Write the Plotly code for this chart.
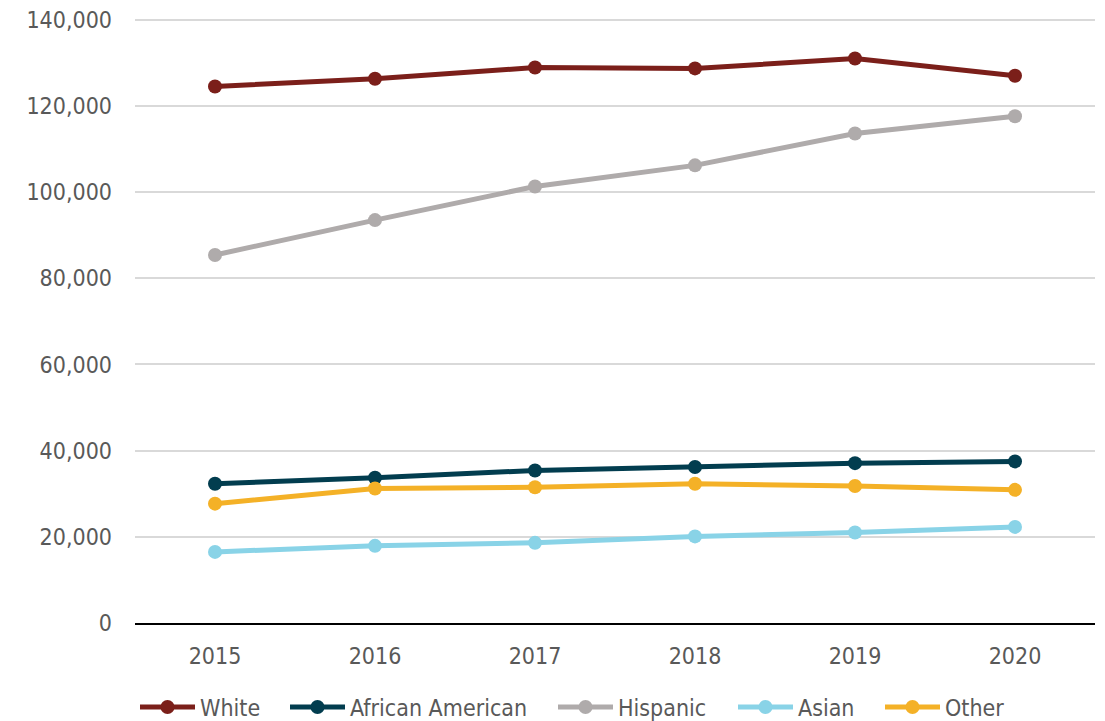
import plotly.graph_objects as go

years = ["2015", "2016", "2017", "2018", "2019", "2020"]
white = [124500, 126300, 128900, 128700, 131000, 127000]
african_american = [32300, 33700, 35400, 36200, 37100, 37500]
hispanic = [85400, 93500, 101300, 106200, 113600, 117600]
asian = [16500, 17900, 18600, 20100, 21000, 22300]
other = [27700, 31200, 31500, 32300, 31800, 30900]

series = [
    ("White", white, "#7B1F1A"),
    ("African American", african_american, "#023D4F"),
    ("Hispanic", hispanic, "#AFABAB"),
    ("Asian", asian, "#89D3E7"),
    ("Other", other, "#F4B127"),
]
legend_symbol_px = [140, 290, 558, 738, 885]

W, H = 1105, 721
PLOT_L, PLOT_R, PLOT_T, PLOT_B = 135, 1095, 18, 623
font = "DejaVu Sans Condensed, DejaVu Sans, sans-serif"
txt = "#595959"
fsize = 23

fig = go.Figure()
legends = {}
for i, (name, vals, color) in enumerate(series):
    lname = "legend" if i == 0 else f"legend{i+1}"
    fig.add_trace(go.Scatter(
        x=years, y=vals, name=name, mode="lines+markers",
        line=dict(color=color, width=5),
        marker=dict(color=color, size=14),
        legend=lname,
    ))
    lx = legend_symbol_px[i] - 5
    legends[lname] = dict(
        orientation="h",
        x=(lx - PLOT_L) / (PLOT_R - PLOT_L),
        xanchor="left",
        y=-(707 - PLOT_B) / (PLOT_B - PLOT_T), yanchor="middle",
        font=dict(family=font, size=fsize, color=txt),
        bgcolor="rgba(0,0,0,0)", borderwidth=0, itemwidth=55,
    )

fig.update_layout(
    width=W, height=H,
    margin=dict(l=PLOT_L, r=W - PLOT_R, t=PLOT_T, b=H - PLOT_B, autoexpand=False),
    paper_bgcolor="white", plot_bgcolor="white",
    font=dict(family=font, size=fsize, color=txt),
    showlegend=True,
    xaxis=dict(type="category", range=[-0.5, 5.5], showgrid=False,
               showline=True, linecolor="black", linewidth=1.5, ticks="",
               ticklabelstandoff=12, automargin=False, ticklabeloverflow="allow",
               tickfont=dict(family=font, size=fsize, color=txt)),
    yaxis=dict(range=[0, 140400], tickvals=[0, 20000, 40000, 60000, 80000, 100000, 120000, 140000],
               tickformat=",d",
               showgrid=True, gridcolor="#D9D9D9", gridwidth=1.5,
               zeroline=False, showline=False, ticks="",
               ticklabelstandoff=22, automargin=False, ticklabeloverflow="allow",
               tickfont=dict(family=font, size=fsize, color=txt)),
    **legends,
)
fig.write_html("out.html", config={"displayModeBar": False},
               post_script="document.body.style.margin='0';")
